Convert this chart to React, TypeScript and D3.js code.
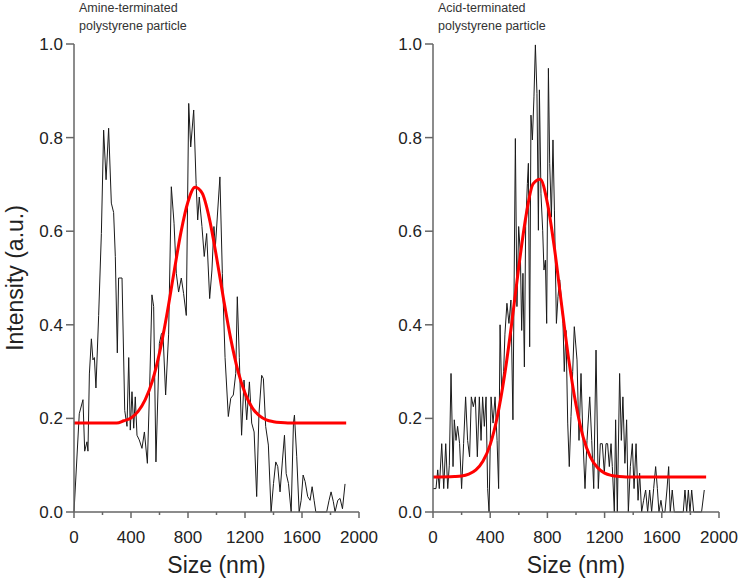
import * as d3 from "d3";

// raw DLS intensity traces, [size nm, intensity]
const amineRaw: [number, number][] = [
  [0, 0], [37, 0.21], [63, 0.24], [75, 0.13], [91, 0.15], [98, 0.13], [108, 0.295],
  [122, 0.37], [133, 0.325], [143, 0.33], [154, 0.265], [173, 0.42], [192, 0.595],
  [208, 0.816], [225, 0.71], [243, 0.82], [262, 0.66], [278, 0.64], [290, 0.546],
  [304, 0.34], [313, 0.5], [337, 0.5], [356, 0.217], [372, 0.183], [384, 0.33],
  [395, 0.175], [407, 0.257], [419, 0.179], [430, 0.246], [442, 0.164], [458, 0.154],
  [477, 0.136], [494, 0.171], [515, 0.104], [531, 0.268], [547, 0.464], [559, 0.439],
  [575, 0.107], [599, 0.36], [613, 0.38], [624, 0.385], [643, 0.25], [664, 0.38],
  [683, 0.695], [702, 0.617], [718, 0.51], [734, 0.47], [753, 0.5], [769, 0.467],
  [788, 0.42], [805, 0.873], [819, 0.78], [840, 0.859], [857, 0.702], [868, 0.624],
  [879, 0.673], [898, 0.61], [914, 0.546], [931, 0.595], [952, 0.456], [968, 0.517],
  [982, 0.61], [992, 0.567], [1024, 0.716], [1041, 0.51], [1060, 0.33], [1083, 0.204],
  [1100, 0.243], [1118, 0.25], [1135, 0.296], [1146, 0.46], [1160, 0.33], [1176, 0.164],
  [1193, 0.282], [1212, 0.197], [1231, 0.278], [1247, 0.19], [1264, 0.171], [1282, 0.033],
  [1298, 0.21], [1317, 0.292], [1329, 0.285], [1345, 0.183], [1364, 0.143], [1383, 0],
  [1400, 0.061], [1416, 0.107], [1430, 0.097], [1446, 0.043], [1463, 0.111], [1477, 0.164],
  [1489, 0.082], [1505, 0.061], [1524, 0], [1540, 0.19], [1547, 0.207], [1563, 0.118],
  [1580, 0], [1594, 0.025], [1608, 0.079], [1622, 0.065], [1640, 0.033], [1657, 0.025],
  [1671, 0.054], [1685, 0.025], [1697, 0], [1773, 0], [1790, 0.025], [1804, 0.043],
  [1820, 0.022], [1832, 0], [1851, 0.025], [1867, 0.029], [1884, 0.007], [1902, 0.06],
];

const acidRaw: [number, number][] = [
  [0, 0.05], [21, 0.05], [33, 0.09], [44, 0.05], [61, 0.146], [75, 0.05], [89, 0.146],
  [103, 0.05], [114, 0.1], [126, 0.296], [140, 0.097], [149, 0.197], [161, 0.153],
  [172, 0.183], [186, 0.146], [200, 0.05], [214, 0.146], [228, 0.246], [242, 0.153],
  [256, 0.118], [268, 0.246], [282, 0.225], [296, 0.246], [310, 0.118], [324, 0.246],
  [336, 0.153], [347, 0.246], [359, 0.183], [371, 0.246], [382, 0.05], [392, 0],
  [406, 0.246], [420, 0.19], [434, 0.246], [448, 0.153], [459, 0.05], [469, 0.4],
  [480, 0.26], [494, 0.3], [503, 0.38], [517, 0.446], [531, 0.403], [545, 0.453],
  [559, 0.197], [576, 0.798], [587, 0.439], [599, 0.61], [611, 0.552], [620, 0.388],
  [629, 0.51], [639, 0.31], [648, 0.61], [660, 0.702], [667, 0.745], [676, 0.353],
  [685, 0.848], [695, 0.795], [706, 0.887], [716, 0.998], [727, 0.894], [737, 0.602],
  [744, 0.902], [755, 0.68], [767, 0.602], [776, 0.517], [786, 0.538], [795, 0.403],
  [807, 0.948], [816, 0.745], [828, 0.63], [839, 0.795], [849, 0.645], [863, 0.403],
  [874, 0.46], [886, 0.496], [898, 0.453], [909, 0.403], [918, 0.3], [930, 0.388],
  [942, 0.19], [953, 0.097], [965, 0.204], [977, 0.3], [988, 0.396], [1007, 0.325],
  [1021, 0.153], [1035, 0.296], [1049, 0.153], [1063, 0.05], [1077, 0.153], [1096, 0.246],
  [1110, 0.153], [1124, 0.05], [1140, 0.346], [1156, 0.05], [1170, 0.146], [1184, 0.146],
  [1198, 0.083], [1210, 0.146], [1221, 0.146], [1233, 0.097], [1245, 0.146], [1254, 0.097],
  [1268, 0], [1277, 0.197], [1289, 0], [1305, 0.296], [1317, 0.153], [1328, 0.246],
  [1342, 0.104], [1354, 0.197], [1366, 0], [1380, 0.097], [1394, 0.146], [1406, 0.05],
  [1420, 0.146], [1434, 0.025], [1445, 0.083], [1459, 0], [1473, 0.025], [1487, 0.047],
  [1501, 0], [1515, 0.047], [1529, 0], [1543, 0.05], [1557, 0.097], [1569, 0.05],
  [1580, 0], [1594, 0.025], [1606, 0], [1622, 0], [1636, 0.047], [1648, 0.097],
  [1659, 0], [1673, 0.047], [1687, 0], [1750, 0], [1762, 0.047], [1774, 0], [1786, 0.047],
  [1797, 0], [1809, 0.047], [1823, 0], [1878, 0], [1897, 0.047],
];

// gaussian fit curves
const amineFit: [number, number][] = [
  [0, 0.19], [300, 0.19], [350, 0.195], [400, 0.201], [450, 0.215], [500, 0.24],
  [550, 0.28], [600, 0.34], [650, 0.419], [700, 0.509], [750, 0.597], [800, 0.663],
  [850, 0.694], [900, 0.681], [950, 0.627], [1000, 0.545], [1050, 0.454], [1100, 0.37],
  [1150, 0.302], [1200, 0.254], [1250, 0.223], [1300, 0.206], [1350, 0.197],
  [1400, 0.193], [1450, 0.191], [1500, 0.19], [1910, 0.19],
];

const acidFit: [number, number][] = [
  [0, 0.075], [150, 0.076], [200, 0.077], [250, 0.081], [300, 0.09], [350, 0.109],
  [400, 0.144], [450, 0.204], [500, 0.291], [550, 0.402], [600, 0.524], [650, 0.632],
  [700, 0.701], [750, 0.711], [800, 0.66], [850, 0.562], [900, 0.441], [950, 0.324],
  [1000, 0.229], [1050, 0.16], [1100, 0.118], [1150, 0.095], [1200, 0.083],
  [1250, 0.078], [1300, 0.076], [1350, 0.075], [1910, 0.075],
];

const xTicks = [0, 400, 800, 1200, 1600, 2000];
const xMinor = [200, 600, 1000, 1400, 1800];
const yTicks = [0, 0.2, 0.4, 0.6, 0.8, 1.0];

const FONT = "'Liberation Sans', Arial, sans-serif";
const AXIS = "#666";

type PanelProps = {
  left: number;
  right: number;
  raw: [number, number][];
  fit: [number, number][];
  title: string[];
};

function Panel({ left, right, raw, fit, title }: PanelProps) {
  const x = d3.scaleLinear().domain([0, 2000]).range([left, right]);
  const y = d3.scaleLinear().domain([0, 1]).range([512, 44]);
  const rawLine = d3
    .line<[number, number]>()
    .x((d) => x(d[0]))
    .y((d) => y(d[1]));
  const fitLine = d3
    .line<[number, number]>()
    .x((d) => x(d[0]))
    .y((d) => y(d[1]))
    .curve(d3.curveMonotoneX);

  return (
    <g>
      <text x={left + 5} y={12} fontSize={12.5} fill="#333" fontFamily={FONT}>
        {title.map((t, i) => (
          <tspan key={i} x={left + 5} dy={i === 0 ? 0 : 18}>
            {t}
          </tspan>
        ))}
      </text>

      <path d={rawLine(raw) || ""} fill="none" stroke="#1a1a1a" strokeWidth={1} strokeLinejoin="round" />
      <path d={fitLine(fit) || ""} fill="none" stroke="#ff0000" strokeWidth={3} />

      {/* axes */}
      <line x1={left} x2={left} y1={y(0)} y2={y(1)} stroke={AXIS} strokeWidth={1.5} />
      <line x1={left} x2={right} y1={y(0)} y2={y(0)} stroke={AXIS} strokeWidth={1.5} />
      {yTicks.map((t) => (
        <g key={t}>
          <line x1={left - 8} x2={left} y1={y(t)} y2={y(t)} stroke={AXIS} strokeWidth={1.5} />
          <text
            x={left - 11}
            y={y(t)}
            dy="0.35em"
            textAnchor="end"
            fontSize={17}
            fill="#222"
            fontFamily={FONT}
          >
            {d3.format(".1f")(t)}
          </text>
        </g>
      ))}
      {xTicks.map((t) => (
        <g key={t}>
          <line x1={x(t)} x2={x(t)} y1={y(0)} y2={y(0) + 6} stroke={AXIS} strokeWidth={1.5} />
          <text x={x(t)} y={543} textAnchor="middle" fontSize={17} fill="#222" fontFamily={FONT}>
            {t}
          </text>
        </g>
      ))}
      {xMinor.map((t) => (
        <line key={t} x1={x(t)} x2={x(t)} y1={y(0)} y2={y(0) + 3} stroke={AXIS} strokeWidth={1.5} />
      ))}
      <text
        x={(left + right) / 2}
        y={573}
        textAnchor="middle"
        fontSize={23}
        fill="#222"
        fontFamily={FONT}
      >
        Size (nm)
      </text>
    </g>
  );
}

export default function App() {
  return (
    <svg
      width={742}
      height={582}
      style={{ position: "absolute", left: 0, top: 0, background: "#fff" }}
    >
      <text
        transform="translate(23,278) rotate(-90)"
        textAnchor="middle"
        fontSize={23}
        fill="#222"
        fontFamily={FONT}
      >
        Intensity (a.u.)
      </text>
      <Panel
        left={74}
        right={359}
        raw={amineRaw}
        fit={amineFit}
        title={["Amine-terminated", "polystyrene particle"]}
      />
      <Panel
        left={433}
        right={719}
        raw={acidRaw}
        fit={acidFit}
        title={["Acid-terminated", "polystyrene particle"]}
      />
    </svg>
  );
}
